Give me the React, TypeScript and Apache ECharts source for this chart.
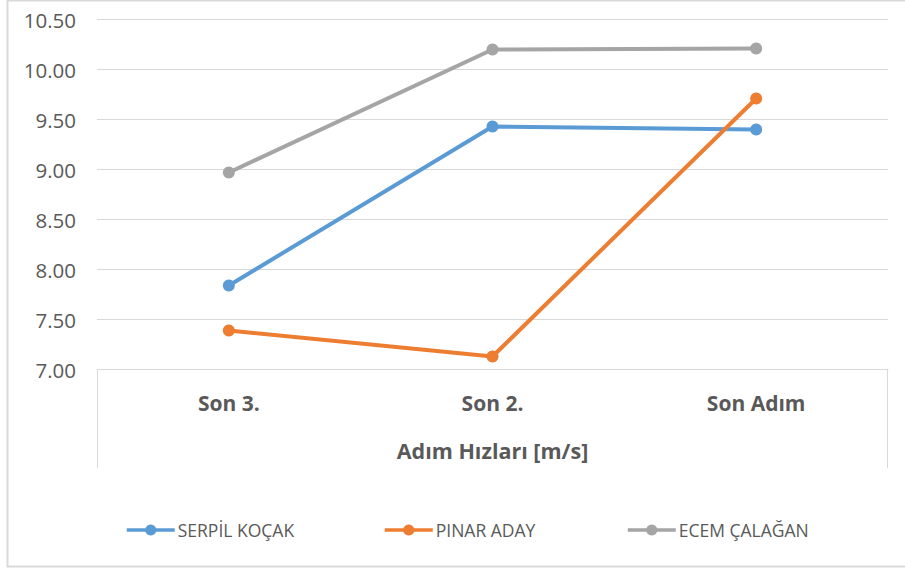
import React, { useEffect, useRef } from "react";
import * as echarts from "echarts";

const categories = ["Son 3.", "Son 2.", "Son Adım"];
const serpil = [7.84, 9.43, 9.4];
const pinar = [7.39, 7.13, 9.71];
const ecem = [8.97, 10.2, 10.21];
const seriesNames = ["SERPİL KOÇAK", "PINAR ADAY", "ECEM ÇALAĞAN"];
const colors = ["#5B9BD5", "#ED7D31", "#A5A5A5"];
const axisTitle = "Adım Hızları [m/s]";

const FONT = "'Open Sans', sans-serif";
const TXT = "#595959";

export default function App() {
  const ref = useRef<HTMLDivElement>(null);
  useEffect(() => {
    if (!ref.current) return;
    const chart = echarts.init(ref.current, undefined, { renderer: "svg" });
    const data = [serpil, pinar, ecem];
    const legendLefts = [125, 383, 626];
    const gridLeft = 97;
    const gridRight = 888;
    const gridTop = 19.5;
    const gridBottomY = 369.5;
    chart.setOption({
      animation: false,
      backgroundColor: "#ffffff",
      textStyle: { fontFamily: FONT },
      grid: {
        left: gridLeft,
        right: 905 - gridRight,
        top: gridTop,
        bottom: 572 - gridBottomY,
        containLabel: false,
      },
      legend: seriesNames.map((n, i) => ({
        data: [n],
        left: legendLefts[i],
        top: 521,
        padding: 0,
        itemWidth: 48,
        itemHeight: 14,
        itemGap: 0,
        lineStyle: { width: 3.5 },
        textStyle: { color: TXT, fontSize: 17.5, fontFamily: FONT, padding: [0, 0, 0, -2] },
      })),
      xAxis: {
        type: "category",
        data: categories,
        boundaryGap: true,
        axisLine: { show: true, lineStyle: { color: "#d9d9d9", width: 1 } },
        axisTick: { show: false },
        axisLabel: {
          color: TXT,
          fontSize: 21,
          fontWeight: "bold",
          fontFamily: FONT,
          margin: 23,
        },
        name: axisTitle,
        nameLocation: "middle",
        nameGap: 70,
        nameTextStyle: { color: TXT, fontSize: 21.5, fontWeight: "bold", fontFamily: FONT },
      },
      yAxis: {
        type: "value",
        min: 7,
        max: 10.5,
        interval: 0.5,
        axisLine: { show: false },
        axisTick: { show: false },
        splitLine: { lineStyle: { color: "#d9d9d9", width: 1 } },
        axisLabel: {
          color: TXT,
          fontSize: 20.5,
          fontFamily: FONT,
          margin: 21,
          formatter: (v: number) => v.toFixed(2),
        },
      },
      series: seriesNames.map((n, i) => ({
        name: n,
        type: "line",
        data: data[i],
        symbol: "circle",
        symbolSize: 12,
        lineStyle: { color: colors[i], width: 4 },
        itemStyle: { color: colors[i] },
        emphasis: { disabled: true },
      })),
      graphic: [
        {
          type: "rect",
          shape: { x: 7.5, y: 0.5, width: 910, height: 566 },
          style: { fill: "none", stroke: "#d9d9d9", lineWidth: 2 },
          silent: true,
        },
        {
          type: "line",
          shape: { x1: gridLeft + 0.5, y1: gridBottomY, x2: gridLeft + 0.5, y2: 468 },
          style: { stroke: "#d9d9d9", lineWidth: 1 },
          silent: true,
        },
        {
          type: "line",
          shape: { x1: gridRight - 0.5, y1: gridBottomY, x2: gridRight - 0.5, y2: 468 },
          style: { stroke: "#d9d9d9", lineWidth: 1 },
          silent: true,
        },
      ],
    });
    return () => chart.dispose();
  }, []);
  return (
    <div
      ref={ref}
      style={{ position: "absolute", left: 0, top: 0, width: 905, height: 572 }}
    />
  );
}
